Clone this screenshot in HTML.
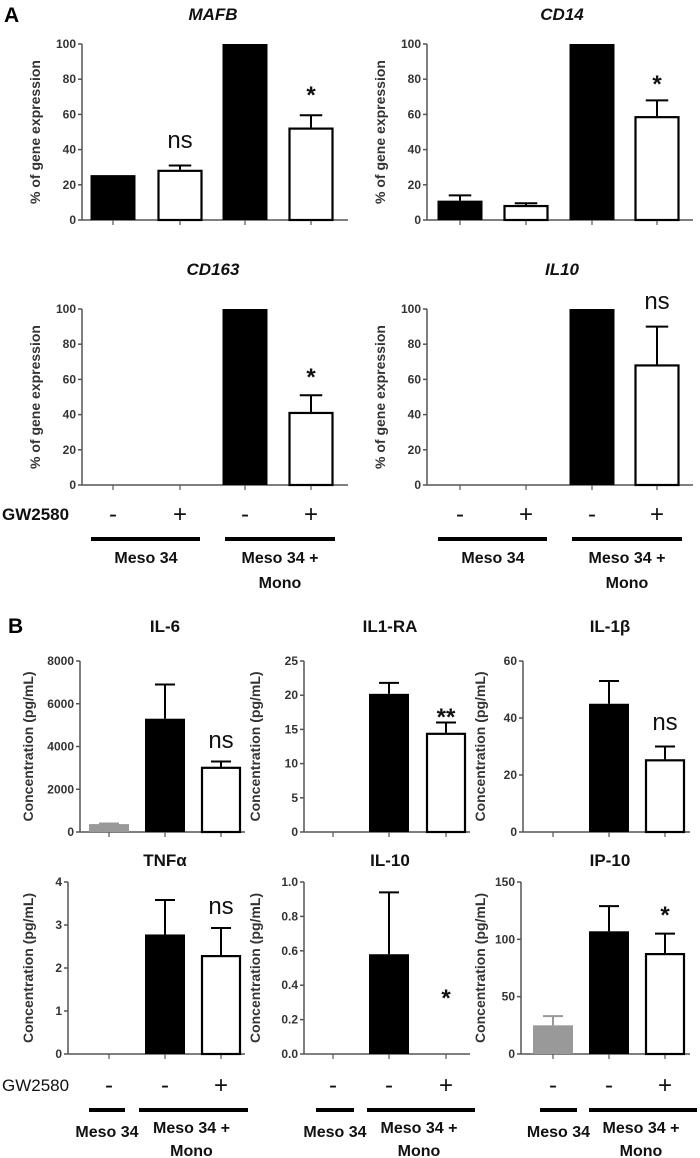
<!DOCTYPE html>
<html><head><meta charset="utf-8"><style>
html,body{margin:0;padding:0;background:#fff;}
svg{display:block;font-family:"Liberation Sans",sans-serif;}
.tk{font-size:12px;font-weight:bold;fill:#333;}
.yt{font-size:14px;font-weight:bold;fill:#333;}
.lab{font-family:"Liberation Sans",sans-serif;font-size:16px;font-weight:bold;fill:#111;}
.ttl{font-size:17px;font-weight:bold;fill:#111;}
.sig{font-size:24px;fill:#111;}
</style></head><body>
<svg id="fig" width="700" height="1158" viewBox="0 0 700 1158">
<text x="4" y="22" style="font-size:21px;font-weight:bold">A</text>
<text x="8" y="633" style="font-size:21px;font-weight:bold">B</text>
</svg>
<script>
// ---- data ----
const geneNames = ["MAFB","CD14","CD163","IL10"];
const mafbValues = [25.5, 28.5, 100, 52.5];
const mafbErrors = [0, 2.5, 0, 7];
const cd14Values = [11, 8.5, 100, 59];
const cd14Errors = [3, 1, 0, 9];
const cd163Values = [0, 0.5, 100, 41.5];
const cd163Errors = [0, 0, 0, 9.5];
const il10GeneValues = [0, 0, 100, 68.5];
const il10GeneErrors = [0, 0, 0, 21.5];
const geneTicks = [0,20,40,60,80,100];

const cytoNames = ["IL-6","IL1-RA","IL-1β","TNFα","IL-10","IP-10"];
const il6Values = [370, 5300, 3050];
const il6Errors = [30, 1600, 250];
const il1raValues = [0, 20.2, 14.5];
const il1raErrors = [0, 1.6, 1.5];
const il1bValues = [0, 45, 25.5];
const il1bErrors = [0, 8, 4.5];
const tnfValues = [0, 2.78, 2.3];
const tnfErrors = [0, 0.8, 0.63];
const il10Values = [0, 0.58, 0];
const il10Errors = [0, 0.36, 0];
const ip10Values = [25, 107, 88];
const ip10Errors = [8, 22, 17];
const il6Ticks = [0,2000,4000,6000,8000];
const il1raTicks = [0,5,10,15,20,25];
const il1bTicks = [0,20,40,60];
const tnfTicks = [0,1,2,3,4];
const il10Ticks = ["0.0","0.2","0.4","0.6","0.8","1.0"];
const ip10Ticks = [0,50,100,150];

const svg = document.getElementById('fig');
const NS = "http://www.w3.org/2000/svg";
function mk(tag, attrs, parent){
  const e = document.createElementNS(NS, tag);
  for (const k in attrs) e.setAttribute(k, attrs[k]);
  (parent||svg).appendChild(e);
  return e;
}
function txt(x,y,s,cls,anchor,parent){
  const t = mk('text',{x:x,y:y,class:cls,'text-anchor':anchor||'middle'},parent);
  t.textContent = s; return t;
}

function panel(o){
  const g = mk('g',{});
  
  
  const ticks = o.ticks.map(Number);
  const ymax = ticks[ticks.length-1];
  const ys = v => o.y0 - (v/ymax)*(o.y0-o.ytop);
  const tt = txt(o.titleX, o.titleY, o.title, 'ttl', 'middle', g);
  if (o.italic) tt.setAttribute('font-style','italic');
  
  
  const ya = mk('line',{x1:o.ax,y1:o.ytop,x2:o.ax,y2:o.y0,stroke:'#555','stroke-width':1.5},g);
  
  
  const xa = mk('line',{x1:o.ax,y1:o.y0,x2:o.xend,y2:o.y0,stroke:'#555','stroke-width':1.5},g);
  
  
  o.ticks.forEach(t=>{
    const y = ys(Number(t));
    mk('line',{x1:o.ax-4,y1:y,x2:o.ax,y2:y,stroke:'#555','stroke-width':1.5},g);
    const l = txt(o.ax-6, y+4, String(t), 'tk', 'end', g);
    
    
  });
  o.centers.forEach(c=>mk('line',{x1:c,y1:o.y0,x2:c,y2:o.y0+5,stroke:'#555','stroke-width':1.2},g));
  const yl = txt(0,0,o.ytitle,'yt','middle',g);
  yl.setAttribute('transform','translate('+o.ytx+','+((o.ytop+o.y0)/2)+') rotate(-90)');
  
  
  o.values.forEach((v,i)=>{
    const c = o.centers[i], w = o.bw, fill = o.fills[i];
    const top = ys(v), err = ys(v + o.errors[i]);
    const ec = fill==='#fff'?'#000':fill;
    if (o.errors[i] > 0) {
      const e1 = mk('line',{x1:c,y1:top,x2:c,y2:err,stroke:ec,'stroke-width':2},g);
      
      
      mk('line',{x1:c-w/4,y1:err,x2:c+w/4,y2:err,stroke:ec,'stroke-width':2},g);
    }
    if (v > 0) {
      const h = o.y0 - top;
      const r = fill==='#fff'
        ? mk('rect',{x:c-w/2+1,y:top+1,width:w-2,height:Math.max(h-1,0),fill:'#fff',stroke:'#000','stroke-width':2.2},g)
        : mk('rect',{x:c-w/2,y:top,width:w,height:h,fill:fill},g);
      
      
    }
  });
  o.sigs.forEach(sg=>{
    const idx = sg[0], s = sg[1], y = sg[2];
    const t = txt(o.centers[idx], y, s, 'sig', 'middle', g);
    if (s!=='ns') t.setAttribute('style','font-size:24px;font-weight:bold');
    
    
  });
}

const aCentersL = [113,180,245,311], aCentersR = [460,526,592,657];
const aFills = ['#000','#fff','#000','#fff'];
const geneVals = [mafbValues,cd14Values,cd163Values,il10GeneValues];
const geneErrs = [mafbErrors,cd14Errors,cd163Errors,il10GeneErrors];
const geneSigs = [[[1,'ns',148],[3,'*',103]],[[3,'*',92]],[[3,'*',385]],[[3,'ns',309]]];
geneNames.forEach((n,i)=>{
  const left = i%2===0, row = Math.floor(i/2);
  panel({name:n.toLowerCase()+'-gene', title:n, italic:true,
    titleX: left?213:562, titleY: row?275:20,
    ax: left?82:427, xend: left?348:693,
    ytop: row?309:44, y0: row?485:220,
    ticks: geneTicks, centers: left?aCentersL:aCentersR, bw:45,
    values: geneVals[i], errors: geneErrs[i], fills:aFills,
    ytitle:'% of gene expression', ytx: left?40:385,
    sigs: geneSigs[i]});
});

const bCenters = [[109,165,221],[333,389,446],[553,609,665]];
const cytoVals = [il6Values,il1raValues,il1bValues,tnfValues,il10Values,ip10Values];
const cytoErrs = [il6Errors,il1raErrors,il1bErrors,tnfErrors,il10Errors,ip10Errors];
const cytoTicks = [il6Ticks,il1raTicks,il1bTicks,tnfTicks,il10Ticks,ip10Ticks];
const cytoSigs = [[[2,'ns',748]],[[2,'**',725]],[[2,'ns',730]],[[2,'ns',914]],[[2,'*',1006]],[[2,'*',923]]];
const bFills = ['#999','#000','#fff'];
const axTop = [80,304,523], axBot = [68,304,521];
cytoNames.forEach((n,i)=>{
  const col = i%3, row = Math.floor(i/3);
  panel({name:n.toLowerCase().replace(/[^a-z0-9]+/g,'-')+'-cytokine', title:n, italic:false,
    titleX:[165,390,610][col], titleY: row?866:632,
    ax: row?axBot[col]:axTop[col], xend: [245,470,690][col],
    ytop: row?882:661, y0: row?1054:832,
    ticks: cytoTicks[i], centers: bCenters[col], bw:40,
    values: cytoVals[i], errors: cytoErrs[i], fills:bFills,
    ytitle:'Concentration (pg/mL)', ytx: [33,260,485][col],
    sigs: cytoSigs[i]});
});

function signRow(y, centers, signs){
  centers.forEach((c,i)=>{
    const t = txt(c, y, signs[i], 'lab', 'middle');
    t.setAttribute('style','font-size:24px;font-weight:normal');
    
    
  });
}
function bar(x1,x2,y,name){
  const l = mk('line',{x1:x1,y1:y,x2:x2,y2:y,stroke:'#000','stroke-width':4});
  
  
}
function grpLabel(x,y,s,name){
  const t = txt(x,y,s,'lab','middle');
  
  
}
let g1 = txt(2,520,'GW2580','lab','start'); g1.setAttribute('style','font-size:17px');  
signRow(522, aCentersL, ['-','+','-','+']);
signRow(522, aCentersR, ['-','+','-','+']);
bar(91,200,539,'meso34-group-line'); bar(225,335,539,'meso34-mono-group-line');
bar(438,547,539,'meso34-group-line'); bar(572,682,539,'meso34-mono-group-line');
[[146,280],[493,627]].forEach(p=>{
  grpLabel(p[0],563,'Meso 34','meso34-label');
  grpLabel(p[1],563,'Meso 34 +','meso34-mono-label');
  grpLabel(p[1],588,'Mono','mono-label');
});
let g2 = txt(2,1091,'GW2580','lab','start'); g2.setAttribute('style','font-size:17px;font-weight:normal');  
bCenters.forEach(cs=>signRow(1093, cs, ['-','-','+']));
[[89,125,139,248],[316,354,367,475],[540,577,589,697]].forEach(p=>{
  bar(p[0],p[1],1110,'meso34-group-line'); bar(p[2],p[3],1110,'meso34-mono-group-line');
  grpLabel((p[0]+p[1])/2,1137,'Meso 34','meso34-label');
  grpLabel((p[2]+p[3])/2-2,1133,'Meso 34 +','meso34-mono-label');
  grpLabel((p[2]+p[3])/2-2,1156,'Mono','mono-label');
});
</script>
</body></html>
